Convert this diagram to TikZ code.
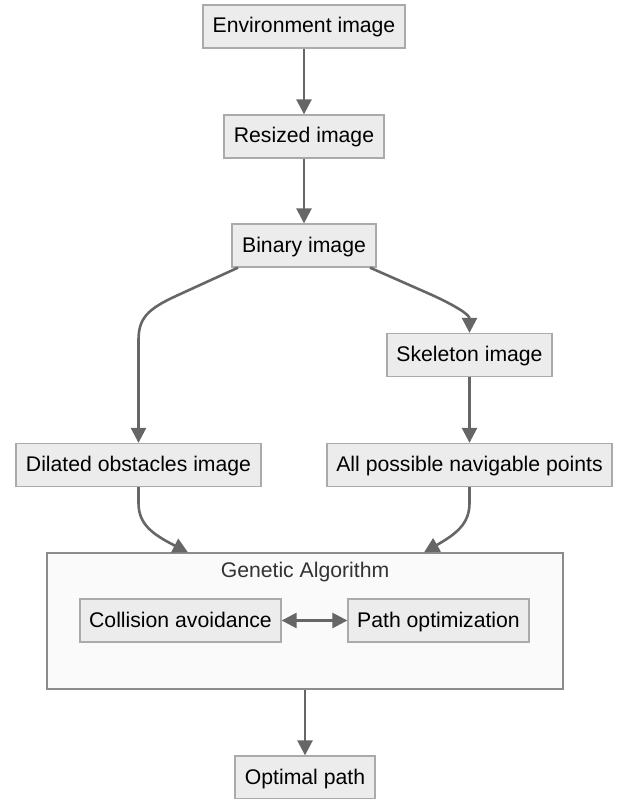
\documentclass[tikz,border=0pt]{standalone}
\usepackage{fontspec}
\setmainfont{Liberation Sans}
\usetikzlibrary{arrows.meta,calc}
\definecolor{boxfill}{HTML}{ECECEC}
\definecolor{boxline}{HTML}{AAAAAA}
\definecolor{clusterfill}{HTML}{FAFAFA}
\definecolor{clusterline}{HTML}{8C8C8C}
\definecolor{edgecol}{HTML}{666666}
\definecolor{labelcol}{HTML}{333333}
\begin{document}
\begin{tikzpicture}[x=1pt,y=-1pt,
  stepbox/.style={draw=boxline,fill=boxfill,line width=1.3pt,minimum height=43pt,
    inner sep=0pt,text height=17pt,text depth=4pt,font=\fontsize{21.2}{25}\selectfont},
  cluster/.style={draw=clusterline,fill=clusterfill,line width=1.3pt,inner sep=0pt},
  flow/.style={draw=edgecol,line width=2.6pt,-{Triangle[length=15pt,width=15pt]}},
  biflow/.style={draw=edgecol,line width=2.6pt,{Triangle[length=15pt,width=15pt]}-{Triangle[length=15pt,width=15pt]}}]
\useasboundingbox (0,0) rectangle (617,799);

% pipeline boxes
\node[stepbox,minimum width=202pt] (env)  at (304,26.5)  {Environment image};
\node[stepbox,minimum width=160pt] (res)  at (304,136.5) {Resized image};
\node[stepbox,minimum width=144pt] (bin)  at (304,245.5) {Binary image};
\node[stepbox,minimum width=165pt] (skel) at (469.5,355) {Skeleton image};
\node[stepbox,minimum width=245pt] (dil)  at (138.5,465) {Dilated obstacles image};
\node[stepbox,minimum width=285pt] (nav)  at (469.5,465) {All possible navigable points};

% genetic algorithm group
\node[cluster,minimum width=516pt,minimum height=136pt] (ga) at (305,621) {};
\node[font=\fontsize{21.2}{25}\selectfont,text=labelcol,text height=17pt,text depth=4pt,inner sep=0pt] (galabel) at (305,571) {Genetic Algorithm};
\node[stepbox,minimum width=201pt] (col)  at (180.5,620.5) {Collision avoidance};
\node[stepbox,minimum width=181pt] (popt) at (438.5,620.5) {Path optimization};

\node[stepbox,minimum width=140pt] (opt)  at (305,777.5) {Optimal path};

% connectors
\draw[flow] (env) -- (res);
\draw[flow] (res) -- (bin);
\draw[flow] ($(bin.south)+(-66,0)$) -- (176,296)
  .. controls (148,309) and (138.5,318) .. (138.5,340) -- (dil.north);
\draw[flow] ($(bin.south)+(66,0)$) -- (432,295)
  .. controls (458,307) and (469.5,315) .. (skel.north);
\draw[flow] (skel) -- (nav);
\draw[flow] (dil.south) -- (138.5,503)
  .. controls (138.5,524) and (152,534) .. ($(ga.north)+(-117,0)$);
\draw[flow] (nav.south) -- (469.5,503)
  .. controls (469.5,524) and (456,534) .. ($(ga.north)+(119,0)$);
\draw[biflow] (col) -- (popt);
\draw[flow] (ga) -- (opt);
\end{tikzpicture}
\end{document}
